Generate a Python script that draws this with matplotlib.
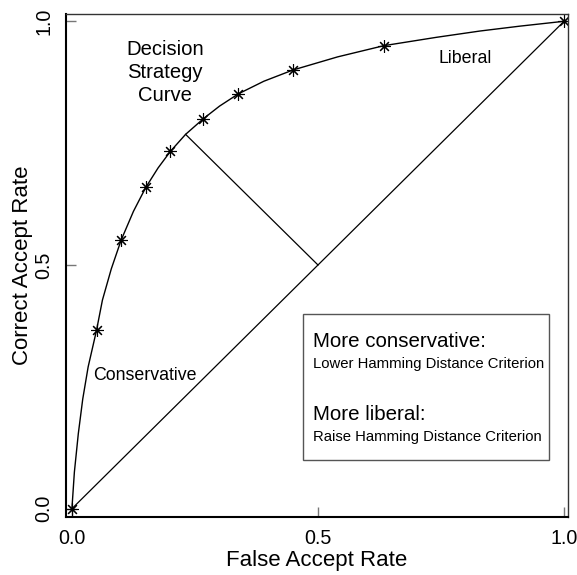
import matplotlib.pyplot as plt
from matplotlib.patches import Rectangle

plt.rcParams['font.family'] = ['Liberation Sans', 'DejaVu Sans']

# operating points of the decision strategy (criterion settings)
far_pts = [0.0, 0.05, 0.10, 0.15, 0.20, 0.267, 0.338, 0.449, 0.634, 1.0]
car_pts = [0.0, 0.366, 0.551, 0.659, 0.733, 0.800, 0.851, 0.900, 0.950, 1.0]

# curve traced through the operating points
curve_far = [0.0, 0.005, 0.013, 0.022, 0.033, 0.05, 0.062, 0.08, 0.10, 0.125, 0.15,
             0.175, 0.20, 0.231, 0.267, 0.30, 0.338, 0.39, 0.449, 0.54, 0.634,
             0.74, 0.829, 0.91, 1.0]
curve_car = [0.0, 0.075, 0.154, 0.225, 0.291, 0.366, 0.428, 0.492, 0.551, 0.610, 0.659,
             0.699, 0.733, 0.768, 0.800, 0.826, 0.851, 0.877, 0.900, 0.927, 0.950,
             0.967, 0.980, 0.990, 1.0]

# chance line and the perpendicular from it to the curve
chance = [0.0, 1.0]
perp_far = [0.5, 0.231]
perp_car = [0.5, 0.768]

ticks = [0.0, 0.5, 1.0]
tick_labels = ['0.0', '0.5', '1.0']

fig = plt.figure(figsize=(5.77, 5.75), dpi=100)
ax = fig.add_axes([0.1144, 0.1009, 0.870, 0.8748])

ax.plot(curve_far, curve_car, color='black', lw=1.0)
ax.plot(far_pts, car_pts, linestyle='none', marker=(8, 2, 0), markersize=9,
        markeredgewidth=0.8, color='black')
ax.plot(chance, chance, color='black', lw=0.9)
ax.plot(perp_far, perp_car, color='black', lw=0.9)

ax.text(0.189, 0.895, 'Decision\nStrategy\nCurve', ha='center', va='center',
        fontsize=14.6, multialignment='center', linespacing=1.25)
ax.text(0.799, 0.914, 'Liberal', ha='center', va='baseline', fontsize=12.8)
ax.text(0.043, 0.265, 'Conservative', ha='left', va='baseline', fontsize=12.8)

ax.add_patch(Rectangle((0.47, 0.10), 0.50, 0.30, fill=False,
                       edgecolor='#555555', lw=1.0))
ax.text(0.490, 0.332, 'More conservative:', fontsize=14.8, va='baseline')
ax.text(0.490, 0.288, 'Lower Hamming Distance Criterion', fontsize=10.7, va='baseline')
ax.text(0.490, 0.182, 'More liberal:', fontsize=14.8, va='baseline')
ax.text(0.490, 0.139, 'Raise Hamming Distance Criterion', fontsize=10.7, va='baseline')

ax.set_xlim(-0.012, 1.008)
ax.set_ylim(-0.017, 1.015)
ax.set_xticks(ticks)
ax.set_xticklabels(tick_labels)
ax.set_yticks(ticks)
ax.set_yticklabels(tick_labels, rotation=90, va='center')
ax.tick_params(direction='in', length=7, width=1.0, color='#777777',
               labelsize=14.2, pad=9)

for side in ['left', 'bottom']:
    ax.spines[side].set_linewidth(1.5)
    ax.spines[side].set_color('black')
for side in ['top', 'right']:
    ax.spines[side].set_linewidth(1.0)
    ax.spines[side].set_color('#333333')

ax.set_xlabel('False Accept Rate', fontsize=16)
ax.set_ylabel('Correct Accept Rate', fontsize=16)
ax.xaxis.label.set_va('center')
ax.yaxis.label.set_va('center')
ax.xaxis.set_label_coords(0.5, -0.0869)
ax.yaxis.set_label_coords(-0.0857, 0.5)

fig.savefig('out.png', dpi=100)
